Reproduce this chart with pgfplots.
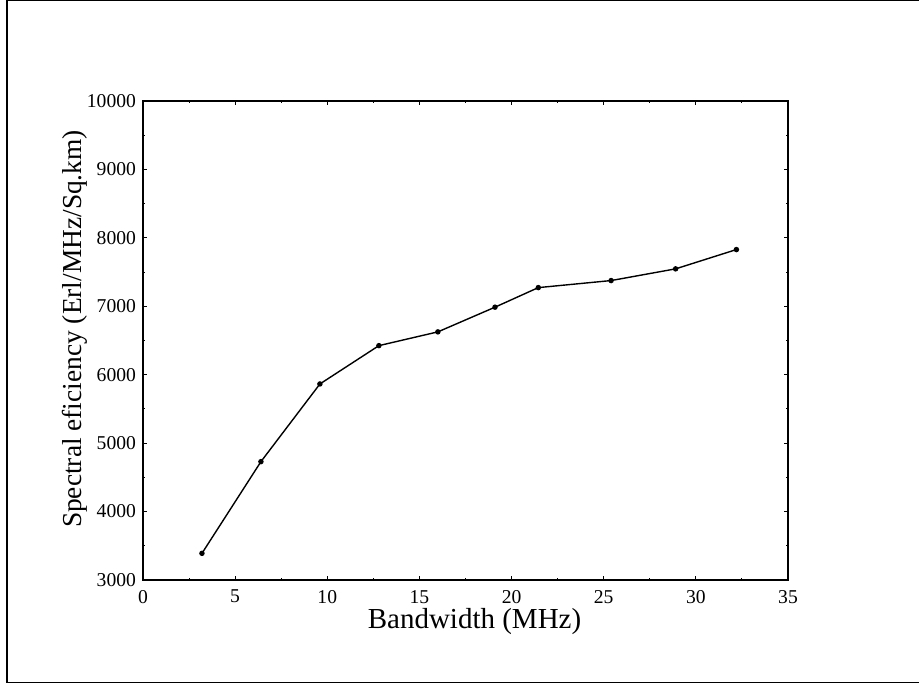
\documentclass[border=0pt]{standalone}
\usepackage{pgfplots}
\pgfplotsset{compat=1.18}
\usepackage{fontspec}
\setmainfont{Liberation Serif}
\begin{document}
\begin{tikzpicture}
\path[use as bounding box] (0,0) rectangle (459.5pt,343pt);
\draw[line width=0.7pt] (459.5pt,342.6pt) -- (3.5pt,342.6pt) -- (3.5pt,1.7pt) -- (459.5pt,1.7pt);
\begin{axis}[
  at={(71.5pt,53pt)}, anchor=south west,
  scale only axis, width=322.5pt, height=239.5pt,
  xmin=0, xmax=35, ymin=3000, ymax=10000,
  xtick={0,5,...,35}, ytick={3000,4000,...,10000},
  minor x tick num=1, minor y tick num=1,
  tick align=inside,
  major tick length=2.2pt, minor tick length=1.2pt,
  axis line style={line width=0.7pt},
  every tick/.style={line width=0.5pt, black},
  scaled ticks=false,
  /pgf/number format/set thousands separator={},
  /pgf/number format/assume math mode=true,
  tick label style={font=\fontsize{9.8}{11}\selectfont},
  xticklabel style={yshift=-1.5pt},
  xlabel={Bandwidth (MHz)},
  ylabel={Spectral eficiency (Erl/MHz/Sq.km)},
  xlabel style={font=\fontsize{14.5}{16}\selectfont, at={(axis description cs:0.514,-0.087)}, anchor=center},
  ylabel style={font=\fontsize{13.7}{15}\selectfont, at={(axis description cs:-0.105,0.524)}, anchor=center},
]
\addplot[black, line width=0.7pt, mark=*, mark size=1pt] coordinates {
  (3.2,3390) (6.4,4730) (9.6,5865) (12.8,6425) (16.0,6626)
  (19.1,6987) (21.45,7273) (25.4,7376) (28.9,7547) (32.2,7829)
};
\end{axis}
\end{tikzpicture}
\end{document}
